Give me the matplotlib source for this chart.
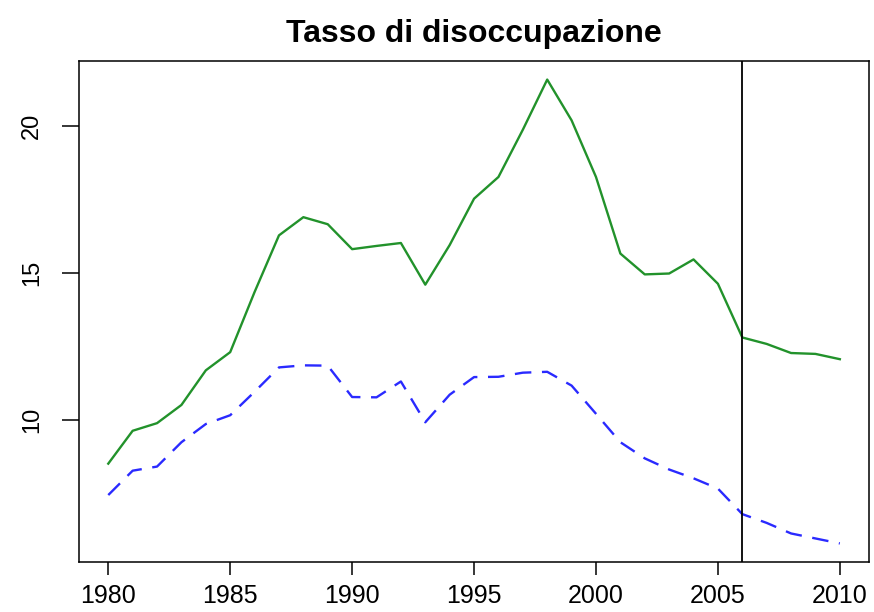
import matplotlib

matplotlib.use("Agg")
import matplotlib.pyplot as plt
import numpy as np

plt.rcParams["font.family"] = ["Liberation Sans", "DejaVu Sans"]

# dati (tasso di disoccupazione, %)
anni = np.arange(1980, 2011)
tasso_verde = [
    8.50, 9.62, 9.88, 10.50, 11.68, 12.30, 14.35, 16.28, 16.90, 16.66,
    15.81, 15.92, 16.02, 14.60, 15.95, 17.53, 18.27, 19.88, 21.59, 20.20,
    18.27, 15.66, 14.95, 14.98, 15.46, 14.63, 12.80, 12.58, 12.27, 12.24,
    12.06,
]
tasso_blu = [
    7.43, 8.26, 8.40, 9.23, 9.85, 10.15, 10.95, 11.78, 11.85, 11.84,
    10.77, 10.76, 11.30, 9.91, 10.85, 11.45, 11.46, 11.60, 11.63, 11.16,
    10.20, 9.23, 8.68, 8.30, 8.00, 7.65, 6.78, 6.48, 6.12, 5.95,
    5.78,
]
anno_verticale = 2006
xticks = [1980, 1985, 1990, 1995, 2000, 2005, 2010]
yticks = [10, 15, 20]

fig = plt.figure(figsize=(8.74, 6.12), dpi=100)
ax = fig.add_axes([0.0904, 0.0817, 0.904, 0.8186])

ax.plot(anni, tasso_verde, color="#22922b", linewidth=1.7)
ax.plot(anni, tasso_blu, color="#2a2aff", linewidth=1.7, linestyle=(0, (7, 4.5)))
ax.axvline(anno_verticale, color="black", linewidth=1.3)

ax.margins(x=0.04, y=0.04)
ax.set_xticks(xticks)
ax.set_yticks(yticks)
ax.set_yticklabels([str(v) for v in yticks], rotation=90, va="center")
ax.tick_params(axis="x", length=9, width=1.1, labelsize=18, pad=7)
ax.tick_params(axis="y", length=12, width=1.1, labelsize=17, pad=14)
for s in ax.spines.values():
    s.set_linewidth(1.1)

ax.set_title("Tasso di disoccupazione", fontsize=23, fontweight="bold", pad=14)

fig.savefig("out.png", dpi=100)
